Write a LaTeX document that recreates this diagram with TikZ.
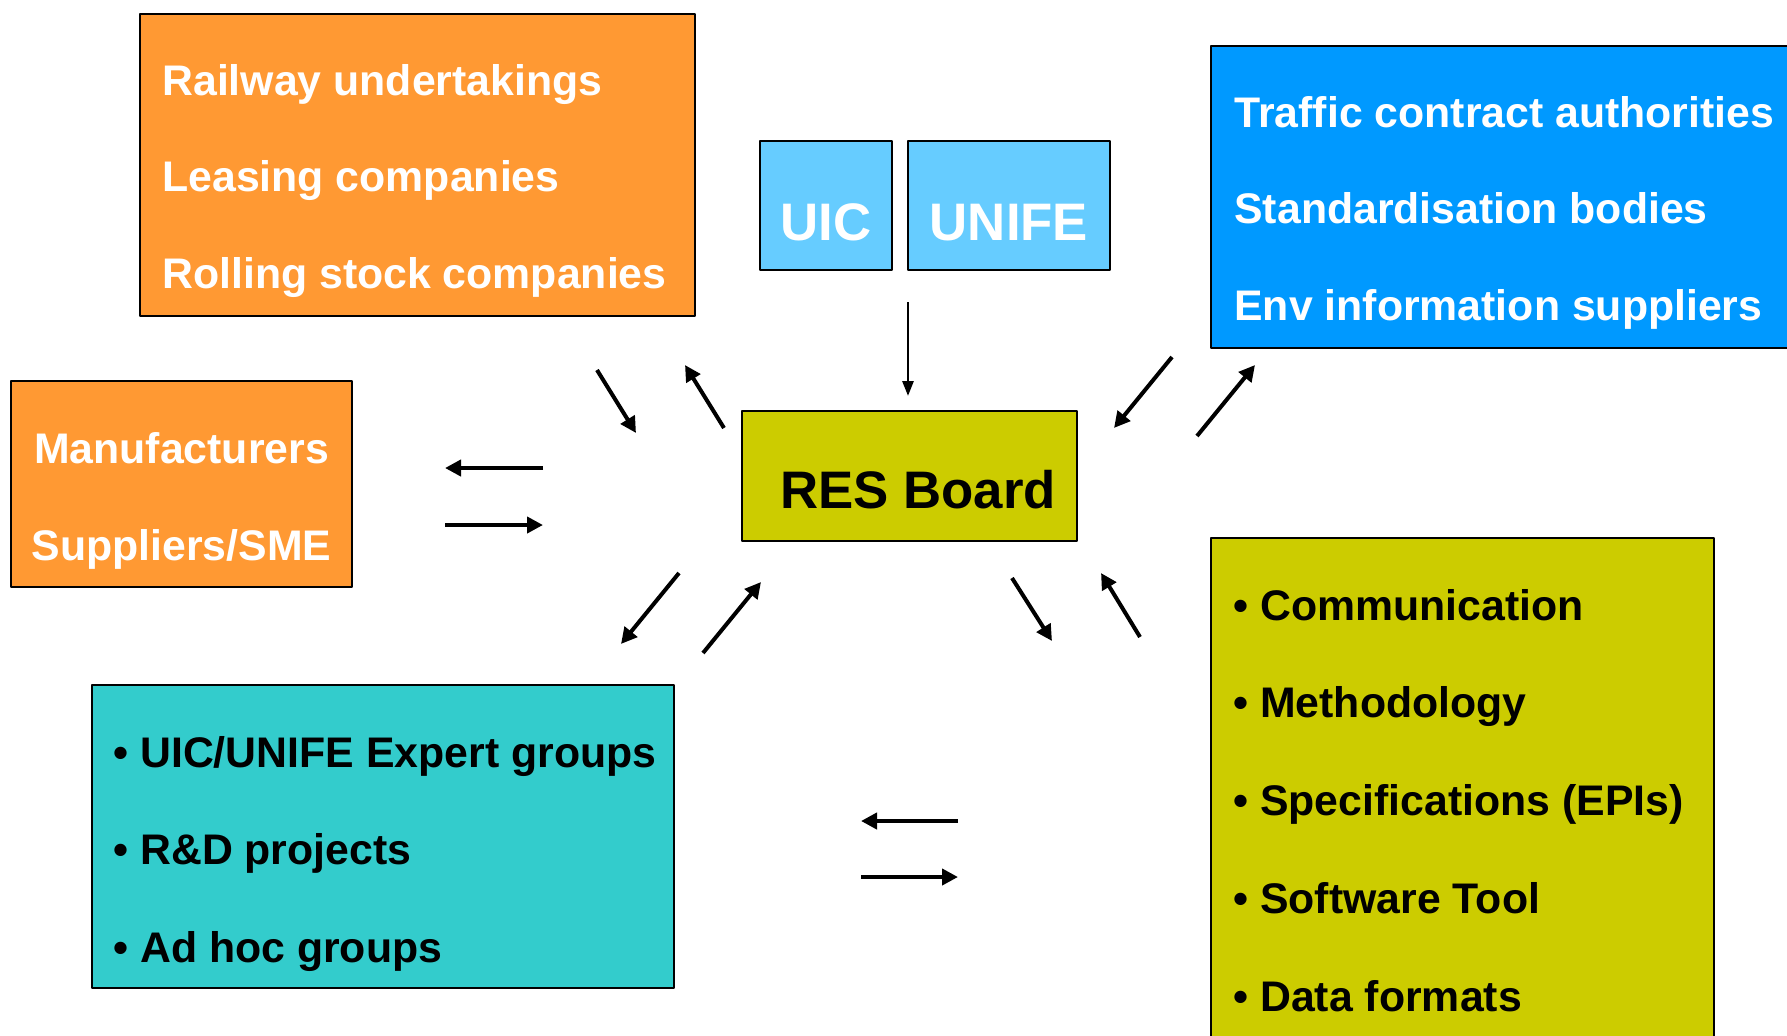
\documentclass[tikz,border=0pt]{standalone}
\usepackage{fontspec}
\setmainfont{Liberation Sans}
\usetikzlibrary{arrows.meta}
\definecolor{orangebox}{HTML}{FF9933}
\definecolor{bluebox}{HTML}{0099FF}
\definecolor{skybox}{HTML}{66CCFF}
\definecolor{olivebox}{HTML}{CCCC00}
\definecolor{tealbox}{HTML}{33CCCC}
\begin{document}
\begin{tikzpicture}[x=0.5pt, y=-0.5pt, line join=round,
		font=\bfseries\fontsize{21.4}{25}\selectfont,
		panel/.style={draw=black, line width=1.2pt, anchor=north west, inner sep=0pt, outer sep=0pt},
		txt/.style={anchor=base west, inner sep=0pt},
		big/.style={anchor=base, inner sep=0pt, font=\bfseries\fontsize{26.4}{30}\selectfont},
		arr/.style={-{Triangle[length=8pt,width=8pt]}, line width=2pt},
		thinarr/.style={-{Triangle[length=7.5pt,width=5.5pt]}, line width=1.4pt}]
	\useasboundingbox (0,0) rectangle (1787,1035);
	\clip (0,0) rectangle (1787,1035);
	% Boxes
	\node[panel, fill=orangebox, minimum width=277.5pt, minimum height=151pt] (rail) at (140,14) {};
	\node[panel, fill=skybox, minimum width=66pt, minimum height=64.5pt] (uic) at (760,141) {};
	\node[panel, fill=skybox, minimum width=101pt, minimum height=64.5pt] (unife) at (908,141) {};
	\node[panel, fill=bluebox, minimum width=300pt, minimum height=151pt] (auth) at (1211,46) {};
	\node[panel, fill=orangebox, minimum width=170.5pt, minimum height=103pt] (manu) at (11,381) {};
	\node[panel, fill=olivebox, minimum width=167.5pt, minimum height=65pt] (res) at (742,411) {};
	\node[panel, fill=olivebox, minimum width=251.5pt, minimum height=262pt] (work) at (1211,538) {};
	\node[panel, fill=tealbox, minimum width=291pt, minimum height=151.5pt] (groups) at (92,685) {};
	% Texts
	\node[big, text=white] (uict) at (826,240) {UIC};
	\node[big, text=white] (unifet) at (1009,240) {UNIFE};
	\node[big] (rest) at (918,508) {RES Board};
	\foreach \t [count=\i] in {Railway undertakings, Leasing companies, Rolling stock companies}
		\node[txt, text=white] (rail\i) at (162,{95+96.5*(\i-1)}) {\t};
	\foreach \t [count=\i] in {Traffic contract authorities, Standardisation bodies, Env information suppliers}
		\node[txt, text=white] (auth\i) at (1234,{127+96.5*(\i-1)}) {\t};
	\foreach \t [count=\i] in {Manufacturers, Suppliers/SME}
		\node[anchor=base, inner sep=0pt, text=white] (manu\i) at (181.5,{463+97*(\i-1)}) {\t};
	\foreach \t [count=\i] in {UIC/UNIFE Expert groups, R\&D projects, Ad hoc groups}
		\node[txt] (groups\i) at (113,{767+97.5*(\i-1)}) {\textbullet\ \t};
	\foreach \t [count=\i] in {Communication, Methodology, Specifications (EPIs), Software Tool, Data formats}
		\node[txt] (work\i) at (1233,{620+97.75*(\i-1)}) {\textbullet\ \t};
	% Arrows
	\coordinate (ds) at (908,302);
	\coordinate (de) at (908,396);
	\draw[thinarr] (ds) -- (de);
	\foreach \n/\xa/\ya/\xb/\yb in {ml/543/468/445/468, mr/445/525/543/525,
			ri/597/370/636/433, ro/724/428/685/365,
			go/679/573/621/644, gi/703/653/761/582,
			ai/1172/357/1114/428, ao/1197/436/1255/365,
			wo/1012/578/1052/641, wi/1140/637/1101/573,
			bl/958/821/861/821, br/861/877/958/877}{
		\coordinate (\n s) at (\xa,\ya);
		\coordinate (\n e) at (\xb,\yb);
		\draw[arr] (\n s) -- (\n e);
	}
\end{tikzpicture}
\end{document}
